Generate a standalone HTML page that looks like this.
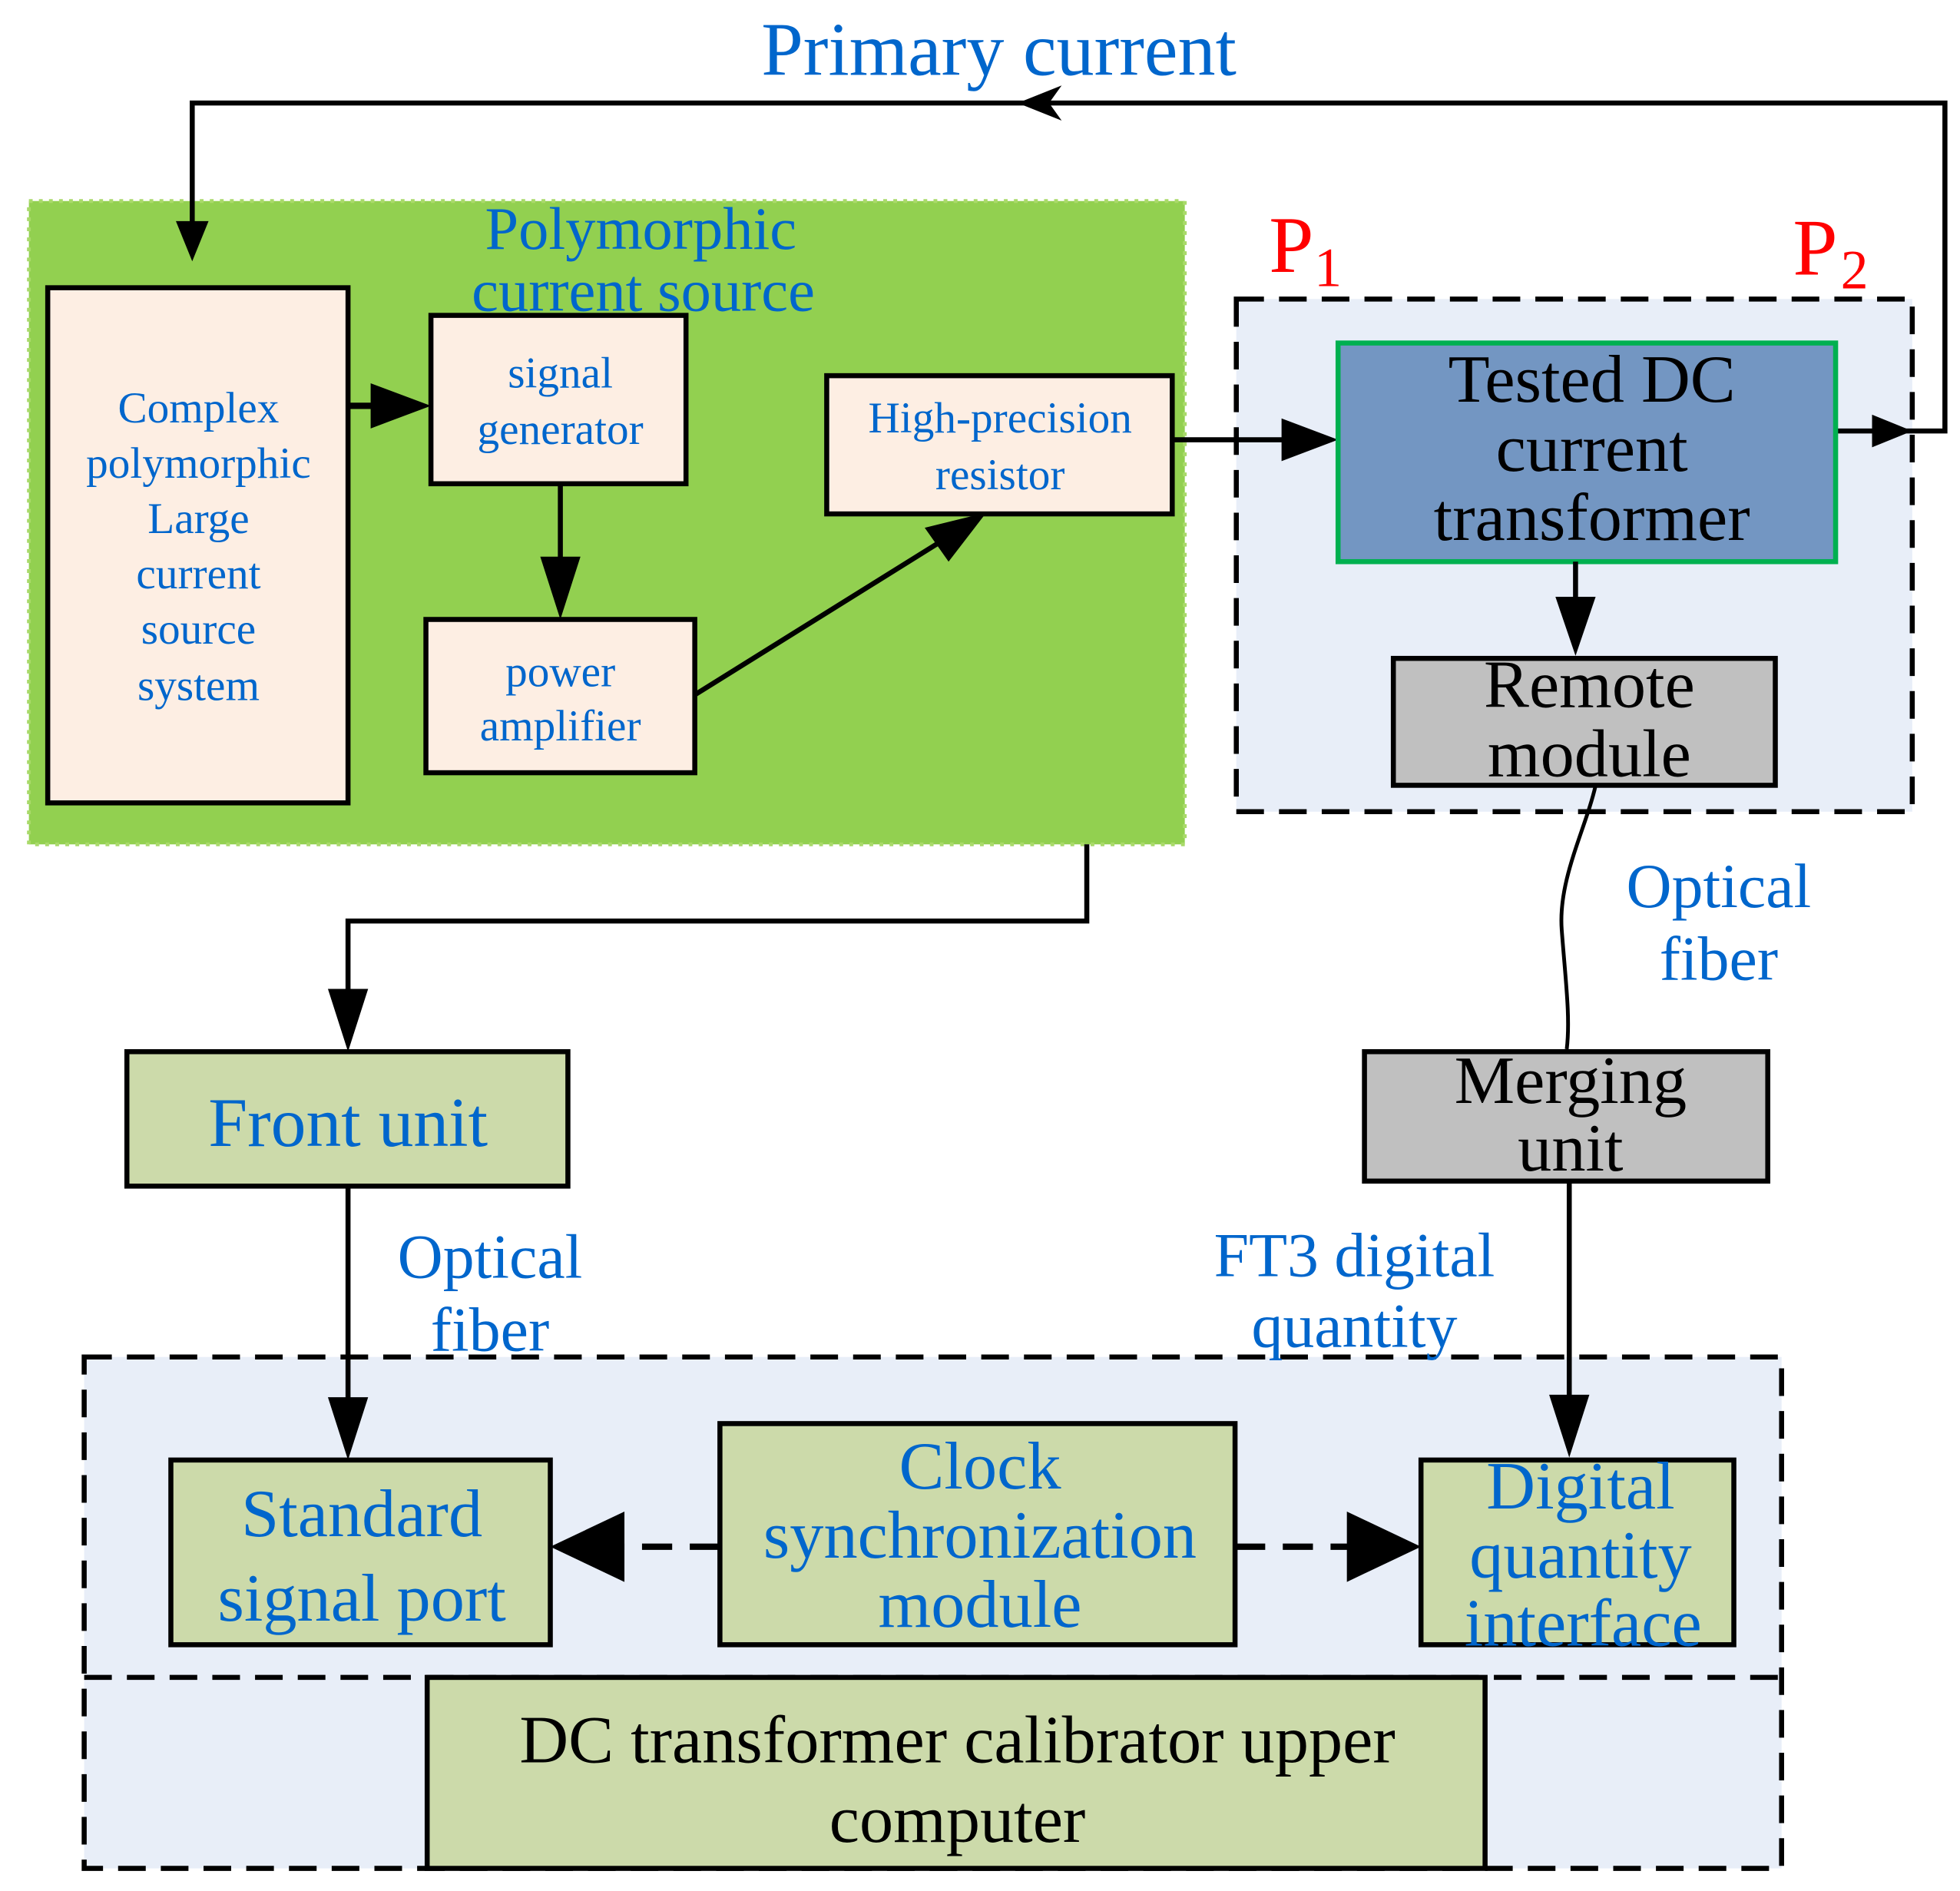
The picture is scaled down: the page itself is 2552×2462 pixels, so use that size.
<!DOCTYPE html>
<html><head><meta charset="utf-8"><style>
html,body{margin:0;padding:0;background:#fff}
svg{display:block}
text{font-family:"Liberation Serif",serif;text-anchor:middle;dominant-baseline:central}
.b{fill:#0066CC}.k{fill:#000}
</style></head><body>
<svg width="2552" height="2462" viewBox="0 0 1560 1505" preserveAspectRatio="none" xmlns="http://www.w3.org/2000/svg">
<rect width="1560" height="1505" fill="#fff"/>
<rect x="23" y="160" width="920" height="512" fill="#92D050" stroke="#A9DA6A" stroke-width="3" stroke-dasharray="3 5"/>
<rect x="984" y="238" width="538" height="408" fill="#E8EEF8" stroke="#000" stroke-width="4" stroke-dasharray="22 12"/>
<rect x="67" y="1080" width="1351" height="407" fill="#E8EEF8" stroke="#000" stroke-width="4" stroke-dasharray="22 12"/>
<line x1="67" y1="1335" x2="1418" y2="1335" stroke="#000" stroke-width="4" stroke-dasharray="22 12"/>

<text x="795" y="40" class="b" font-size="60">Primary current</text>
<polyline points="153,195 153,82 1548,82 1548,343 1460,343" fill="none" stroke="#000" stroke-width="4"/>
<polygon points="153,208 140,176 166,176" fill="#000"/>
<polygon points="810,82 845,68 835,82 845,96" fill="#000"/>
<polygon points="1522,343 1490,330 1490,356" fill="#000"/>

<text x="510" y="182" class="b" font-size="48">Polymorphic</text>
<text x="512" y="231" class="b" font-size="48">current source</text>

<rect x="38" y="229" width="239" height="410" fill="#FDEEE3" stroke="#000" stroke-width="4"/>
<g class="b" font-size="35">
<text x="158" y="325">Complex</text><text x="158" y="369">polymorphic</text><text x="158" y="413">Large</text>
<text x="158" y="457">current</text><text x="158" y="501">source</text><text x="158" y="546">system</text></g>

<line x1="277" y1="323" x2="310" y2="323" stroke="#000" stroke-width="5"/>
<polygon points="343,323 295,305 295,341" fill="#000"/>

<rect x="343" y="251" width="203" height="134" fill="#FDEEE3" stroke="#000" stroke-width="4"/>
<text x="446" y="297" class="b" font-size="35">signal</text>
<text x="446" y="342" class="b" font-size="35">generator</text>

<line x1="446" y1="385" x2="446" y2="455" stroke="#000" stroke-width="4"/>
<polygon points="446,493 430,443 462,443" fill="#000"/>

<rect x="339" y="493" width="214" height="122" fill="#FDEEE3" stroke="#000" stroke-width="4"/>
<text x="446" y="535" class="b" font-size="35">power</text>
<text x="446" y="578" class="b" font-size="35">amplifier</text>

<line x1="553" y1="553" x2="760" y2="424" stroke="#000" stroke-width="4"/>
<polygon points="785,408 736,420 755,447" fill="#000"/>

<rect x="658" y="299" width="275" height="110" fill="#FDEEE3" stroke="#000" stroke-width="4"/>
<text x="796" y="333" class="b" font-size="35">High-precision</text>
<text x="796" y="378" class="b" font-size="35">resistor</text>

<line x1="933" y1="350" x2="1030" y2="350" stroke="#000" stroke-width="4"/>
<polygon points="1065,350 1020,333 1020,367" fill="#000"/>

<text x="1010" y="195" fill="#FF0000" font-size="64" style="text-anchor:start">P</text>
<text x="1046" y="213" fill="#FF0000" font-size="44" style="text-anchor:start">1</text>
<text x="1427" y="197" fill="#FF0000" font-size="64" style="text-anchor:start">P</text>
<text x="1465" y="215" fill="#FF0000" font-size="44" style="text-anchor:start">2</text>

<rect x="1065" y="273" width="396" height="174" fill="#7396C2" stroke="#00B050" stroke-width="4"/>
<g class="k" font-size="54"><text x="1267" y="302">Tested DC</text><text x="1267" y="357">current</text><text x="1267" y="412">transformer</text></g>

<line x1="1254" y1="447" x2="1254" y2="495" stroke="#000" stroke-width="4"/>
<polygon points="1254,522 1238,475 1270,475" fill="#000"/>

<rect x="1109" y="524" width="304" height="101" fill="#C0C0C0" stroke="#000" stroke-width="4"/>
<text x="1265" y="545" class="k" font-size="54">Remote</text>
<text x="1265" y="600" class="k" font-size="54">module</text>

<path d="M1270,625 C1262,660 1240,700 1243,740 C1246,780 1250,810 1247,835" fill="none" stroke="#000" stroke-width="3"/>
<text x="1368" y="705" class="b" font-size="50">Optical</text>
<text x="1368" y="763" class="b" font-size="50">fiber</text>

<polyline points="865,672 865,733 277,733 277,800" fill="none" stroke="#000" stroke-width="4"/>
<polygon points="277,837 261,787 293,787" fill="#000"/>

<rect x="101" y="837" width="351" height="107" fill="#CCDAAA" stroke="#000" stroke-width="4"/>
<text x="277" y="893" class="b" font-size="56">Front unit</text>

<line x1="277" y1="944" x2="277" y2="1120" stroke="#000" stroke-width="4"/>
<polygon points="277,1162 261,1112 293,1112" fill="#000"/>
<text x="390" y="1000" class="b" font-size="50">Optical</text>
<text x="390" y="1058" class="b" font-size="50">fiber</text>

<rect x="1086" y="837" width="321" height="103" fill="#C0C0C0" stroke="#000" stroke-width="4"/>
<text x="1250" y="860" class="k" font-size="54">Merging</text>
<text x="1250" y="914" class="k" font-size="54">unit</text>

<line x1="1249" y1="940" x2="1249" y2="1120" stroke="#000" stroke-width="4"/>
<polygon points="1249,1160 1233,1110 1265,1110" fill="#000"/>
<text x="1078" y="999" class="b" font-size="50">FT3 digital</text>
<text x="1078" y="1055" class="b" font-size="50">quantity</text>

<rect x="136" y="1162" width="302" height="147" fill="#CCDAAA" stroke="#000" stroke-width="4"/>
<text x="288" y="1205" class="b" font-size="54">Standard</text>
<text x="288" y="1272" class="b" font-size="54">signal port</text>

<rect x="573" y="1133" width="410" height="176" fill="#CCDAAA" stroke="#000" stroke-width="4"/>
<g class="b" font-size="54"><text x="780" y="1167">Clock</text><text x="780" y="1222">synchronization</text><text x="780" y="1277">module</text></g>

<rect x="1131" y="1162" width="249" height="147" fill="#CCDAAA" stroke="#000" stroke-width="4"/>
<g class="b" font-size="54"><text x="1258" y="1183">Digital</text><text x="1258" y="1238">quantity</text><text x="1260" y="1292">interface</text></g>

<line x1="573" y1="1231" x2="480" y2="1231" stroke="#000" stroke-width="5" stroke-dasharray="24 14"/>
<polygon points="438,1231 497,1203 497,1259" fill="#000"/>
<line x1="983" y1="1231" x2="1080" y2="1231" stroke="#000" stroke-width="5" stroke-dasharray="24 14"/>
<polygon points="1131,1231 1072,1203 1072,1259" fill="#000"/>

<rect x="340" y="1335" width="842" height="152" fill="#CCDAAA" stroke="#000" stroke-width="4"/>
<text x="762" y="1385" class="k" font-size="54">DC transformer calibrator upper</text>
<text x="762" y="1448" class="k" font-size="54">computer</text>
</svg>
</body></html>
